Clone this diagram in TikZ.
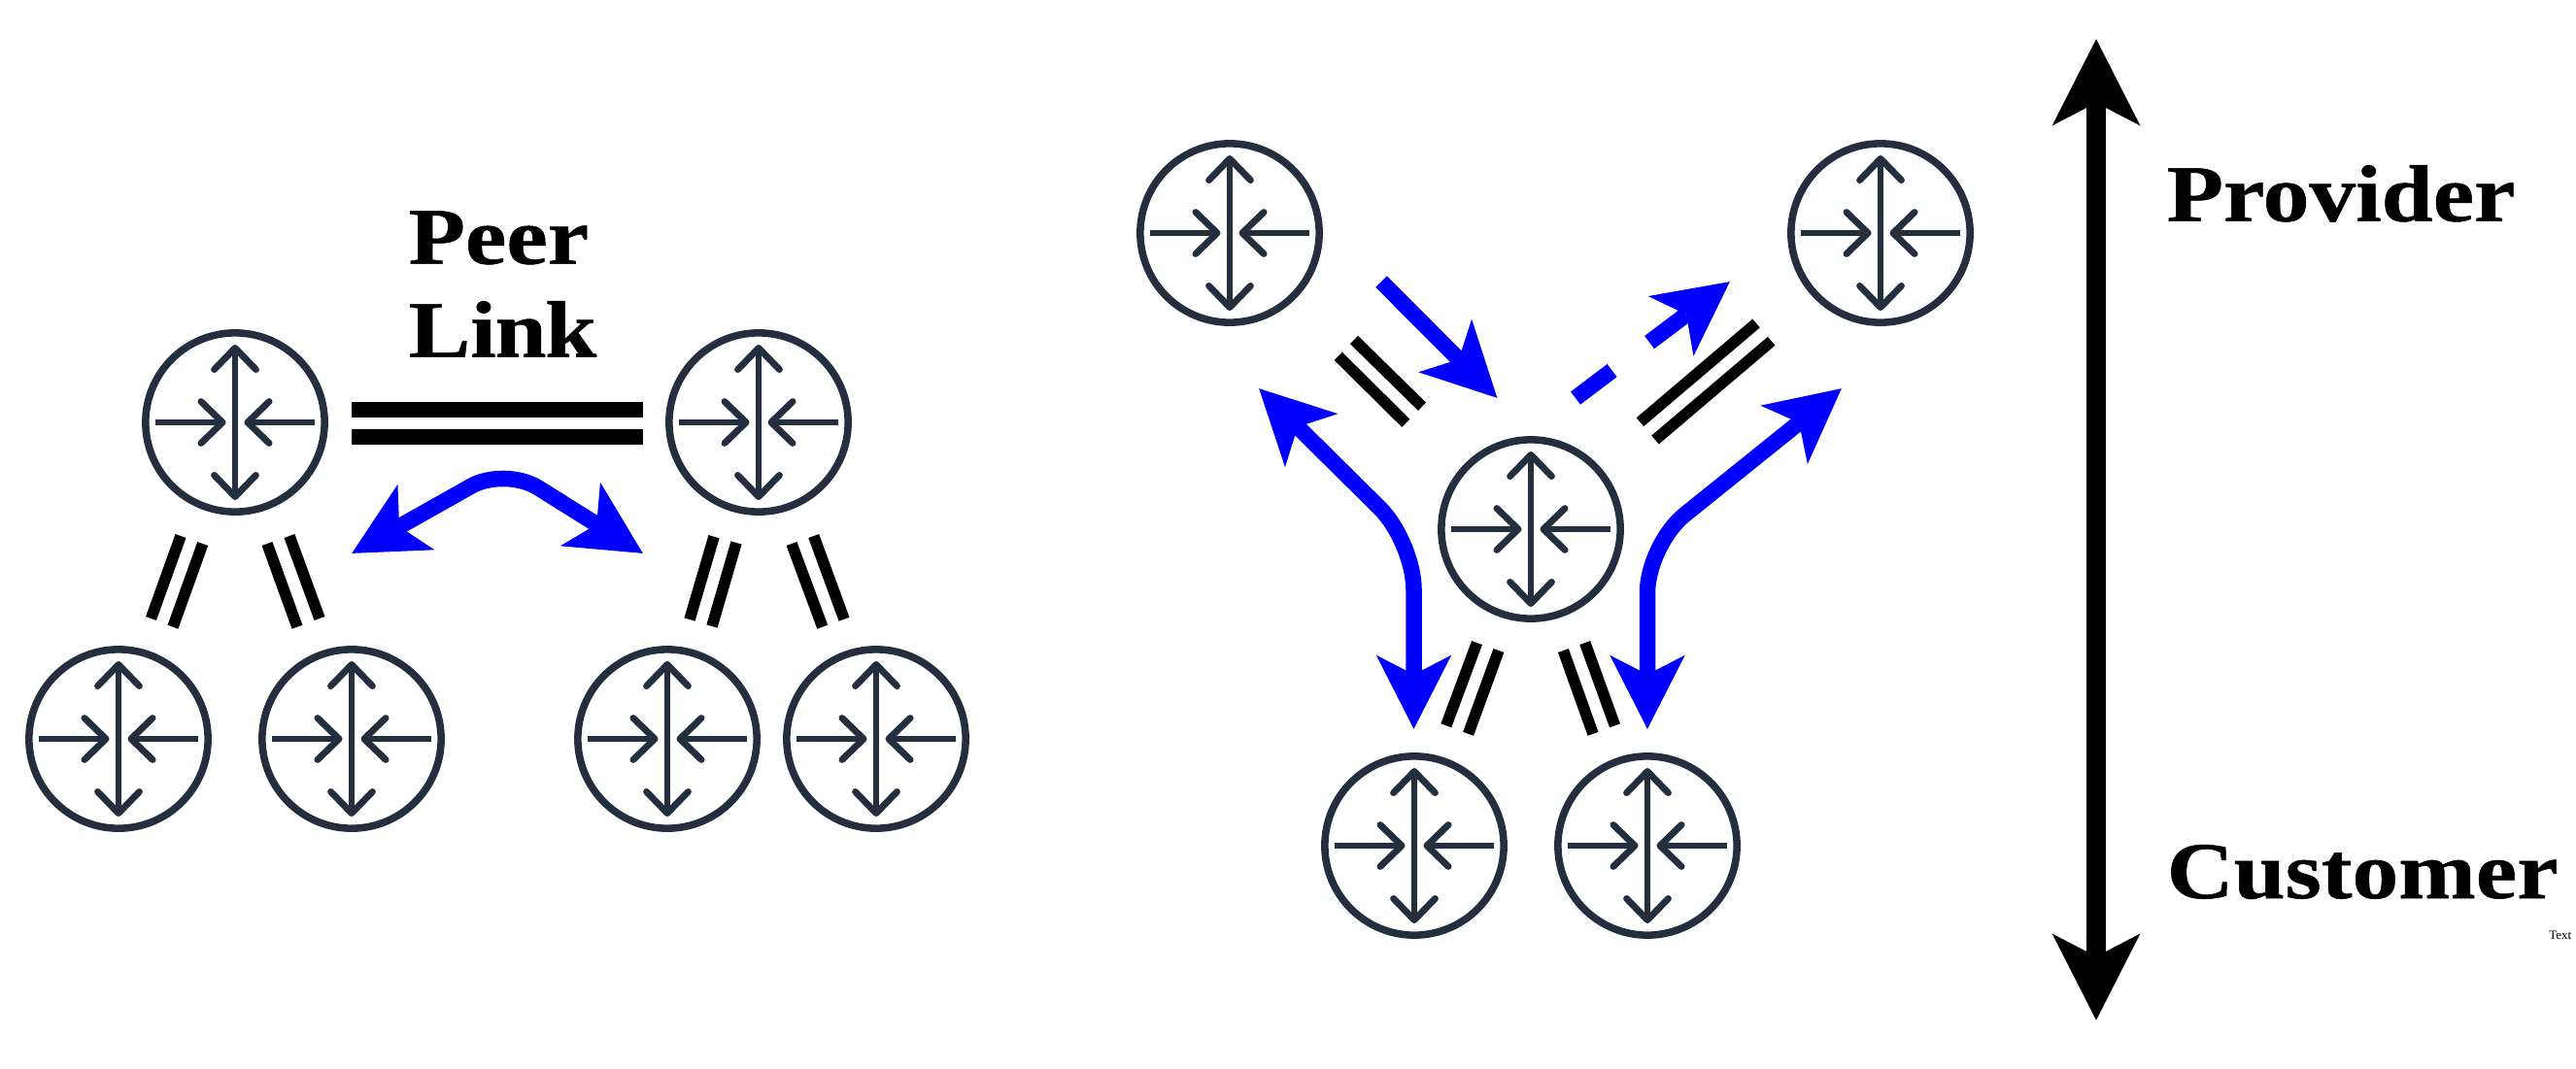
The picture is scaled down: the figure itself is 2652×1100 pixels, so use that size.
\documentclass[tikz,border=0pt]{standalone}
\usepackage{fontspec}
\setmainfont{Liberation Serif}
\newfontfamily\labelfont[FakeStretch=1.15,BoldFeatures={FakeBold=0.6}]{Liberation Serif}
\usetikzlibrary{arrows.meta}
\definecolor{routerblue}{HTML}{232F3E}
\tikzset{
  router/.style = {circle, draw=routerblue, line width=2.15pt, minimum size=52.4pt, inner sep=0pt, outer sep=0pt},
  spoke/.style = {draw=routerblue, line width=1.95pt, >={Straight Barb[length=6.3pt, width=12.2pt, round]}},
  bar/.style = {draw=black, line width=3.3pt},
  peerbar/.style = {draw=black, line width=4.55pt},
  flow/.style = {draw=blue, line width=4.7pt, rounded corners=11.4pt,
    >={Stealth[length=21.3pt, width=21.3pt, inset=5.3pt]}},
  levelarrow/.style = {draw=black, line width=5.7pt, <->,
    >={Stealth[length=25pt, width=25pt, inset=6.3pt]}},
  biglabel/.style = {font=\labelfont\bfseries\fontsize{23.6}{27.3}\selectfont, inner sep=0pt, anchor=base west},
}
\begin{document}
\begin{tikzpicture}[x = 0.01cm, y = -0.01cm]
\useasboundingbox (0,0) rectangle (2652,1100);
\foreach \name/\px/\py in {rA/242/435, rB/781/435, rC/122/761, rD/362/761, rE/687/761, rF/902/761,
                           rG/1266/240, rH/1936/240, rI/1576/545, rJ/1456/871, rK/1696/871}
  \node[router] (\name) at (\px,\py) {};
\foreach \name in {rA,rB,rC,rD,rE,rF,rG,rH,rI,rJ,rK} {
  \draw[spoke, <->] (\name.center) ++(0,-80) -- ++(0,160);
  \draw[spoke, ->] (\name.center) ++(-82,0) -- ++(72.5,0);
  \draw[spoke, ->] (\name.center) ++(82,0) -- ++(-72.5,0);
}
\foreach \name/\px/\py in {
    pa/362/422, pb/662/422, pc/362/450, pd/662/450,
    ca/186/552, cb/155.5/637, cc/208.7/560, cd/178/645.7,
    da/275/560, db/306/645.7, dc/298/552, dd/329/637,
    ea/735/552.7, eb/710/638, ec/758/559, ed/733/645,
    fa/815/560, fb/846.7/645.7, fc/837.7/552, fd/869/637.7,
    ga/1394/350, gb/1464/418.7, gc/1377.7/366.8, gd/1447.3/435.8,
    ha/1808/333, hb/1688.4/434.7, hc/1823.7/351.3, hd/1704/453,
    ja/1520.5/662, jb/1488.8/747.3, jc/1542.9/670, jd/1511.6/755.8,
    ka/1609.4/670, kb/1640/755.8, kc/1631.7/662, kd/1662.5/747.3,
    sa/362/570, sb/520/481, sc/662/570,
    ta/1422/290, tb/1541.5/410,
    ua/1622/410, ub/1781/290,
    va/1296/400, vb/1455.5/558, vc/1455.5/751,
    wa/1896/400, wb/1696/561, wc/1696/751,
    la/2158/40, lb/2158/1051}
  \coordinate (\name) at (\px,\py);
\draw[peerbar] (pa) -- (pb);
\draw[peerbar] (pc) -- (pd);
\foreach \a/\b in {ca/cb, cc/cd, da/db, dc/dd, ea/eb, ec/ed, fa/fb, fc/fd,
                   ga/gb, gc/gd, ha/hb, hc/hd, ja/jb, jc/jd, ka/kb, kc/kd}
  \draw[bar] (\a) -- (\b);
\draw[flow, <->] (sa) -- (sb) -- (sc);
\draw[flow, ->] (ta) -- (tb);
\draw[flow, ->, dash pattern=on 13.4pt off 13.7pt] (ua) -- (ub);
\draw[flow, <->, rounded corners=14pt] (va) -- (vb) -- (vc);
\draw[flow, <->, rounded corners=14pt] (wa) -- (wb) -- (wc);
\draw[levelarrow] (la) -- (lb);
\node[biglabel, align=left] (peerlink) at (420,367.7) {Peer\\Li\kern-0.4pt n\kern-0.4pt k};
\node[biglabel] (provider) at (2230,227.7) {Provider};
\node[biglabel] (customer) at (2230,925) {Customer};
\node[font=\fontsize{3.7}{4}\selectfont, inner sep=0pt, anchor=base east] (textmark) at (2648,967.7) {Text};
\end{tikzpicture}
\end{document}
